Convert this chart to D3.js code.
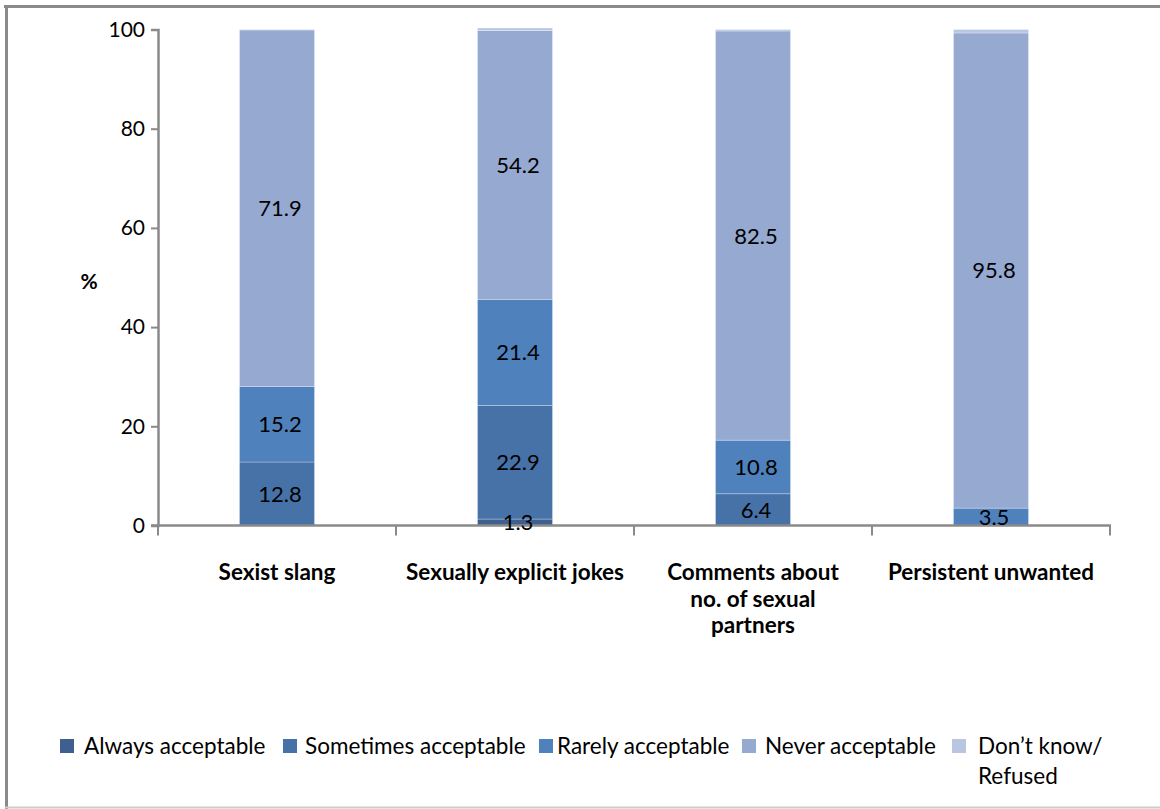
<!DOCTYPE html>
<html>
<head>
<meta charset="utf-8">
<script src="https://cdn.jsdelivr.net/npm/d3@7"></script>
<style>
  html, body { margin: 0; padding: 0; background: #fff; }
  svg { display: block; }
  text { font-family: Lato, "Noto Sans", sans-serif; fill: #000; }
</style>
</head>
<body>
<svg id="chart" width="1160" height="809"></svg>
<script>
// ---- data ----
const categories = ["Sexist slang", "Sexually explicit jokes", "Comments about no. of sexual partners", "Persistent unwanted"];
const categoryLines = [["Sexist slang"], ["Sexually explicit jokes"], ["Comments about", "no. of sexual", "partners"], ["Persistent unwanted"]];
const seriesNames = ["Always acceptable", "Sometimes acceptable", "Rarely acceptable", "Never acceptable", "Don\u2019t know/ Refused"];
const always    = [0,    1.3,  0,    0];
const sometimes = [12.8, 22.9, 6.4,  0];
const rarely    = [15.2, 21.4, 10.8, 3.5];
const never     = [71.9, 54.2, 82.5, 95.8];
const dontKnow  = [0.1,  0.5,  0.3,  0.7];
const yTicks = [0, 20, 40, 60, 80, 100];
const colors = ["#3D6090", "#4672A8", "#4F81BD", "#95A9D1", "#B9C6E1"];

const seriesValues = [always, sometimes, rarely, never, dontKnow];

const svg = d3.select("#chart");

// outer frame
svg.append("line").attr("x1", 4).attr("x2", 1160).attr("y1", 6.5).attr("y2", 6.5).attr("stroke", "#8a8a8a").attr("stroke-width", 3);
svg.append("line").attr("x1", 6.5).attr("x2", 6.5).attr("y1", 5).attr("y2", 809).attr("stroke", "#8a8a8a").attr("stroke-width", 3);
svg.append("line").attr("x1", 5).attr("x2", 1160).attr("y1", 807.5).attr("y2", 807.5).attr("stroke", "#cccccc").attr("stroke-width", 2);

const x0 = 158, x1 = 1110, yTop = 29.5, yBot = 525.5;
const x = d3.scaleBand().domain(categories).range([x0, x1]).paddingInner(0).paddingOuter(0);
const y = d3.scaleLinear().domain([0, 100]).range([yBot, yTop]);
const barW = 75;

// stacked data
const table = categories.map((c, i) => {
  const o = { cat: c };
  seriesNames.forEach((s, k) => o[s] = seriesValues[k][i]);
  return o;
});
const stack = d3.stack().keys(seriesNames)(table);

const gBars = svg.append("g");
stack.forEach((layer, k) => {
  gBars.selectAll(null).data(layer).enter().append("rect")
    .attr("x", d => x(d.data.cat) + x.bandwidth() / 2 - barW / 2)
    .attr("width", barW)
    .attr("y", d => y(d[1]))
    .attr("height", d => Math.max(0, y(d[0]) - y(d[1])))
    .attr("fill", colors[k])
    .attr("stroke", "rgba(255,255,255,0.35)")
    .attr("stroke-width", 0.8);
});

// axes
const yAxis = d3.axisLeft(y).tickValues(yTicks).tickSize(7).tickPadding(6);
const gy = svg.append("g").attr("transform", `translate(${x0},0)`).call(yAxis);
gy.select(".domain").attr("stroke", "#8a8a8a").attr("stroke-width", 2.5);
gy.selectAll(".tick line").attr("stroke", "#8a8a8a").attr("stroke-width", 2);
gy.selectAll(".tick text").style("font-family", "Lato, sans-serif").style("font-size", "21px").attr("fill", "#000");

// x axis baseline and ticks at band boundaries
svg.append("line").attr("x1", x0 - 7).attr("x2", x1 + 1).attr("y1", yBot).attr("y2", yBot).attr("stroke", "#8a8a8a").attr("stroke-width", 2.5);
const bounds = categories.map(c => x(c)).concat([x1]);
svg.selectAll(null).data(bounds).enter().append("line")
  .attr("x1", d => d).attr("x2", d => d)
  .attr("y1", yBot).attr("y2", yBot + 10)
  .attr("stroke", "#8a8a8a").attr("stroke-width", 2);

// category labels
categories.forEach((c, i) => {
  const t = svg.append("text")
    .attr("x", x(c) + x.bandwidth() / 2)
    .attr("y", 580)
    .attr("text-anchor", "middle")
    .style("font-size", "22.5px").style("font-weight", "bold");
  categoryLines[i].forEach((ln, j) => {
    t.append("tspan").attr("x", x(c) + x.bandwidth() / 2).attr("dy", j === 0 ? 0 : 26.5).text(ln);
  });
});

// y title
svg.append("text").attr("x", 89).attr("y", 289).attr("text-anchor", "middle")
  .style("font-size", "21px").style("font-weight", "bold").text("%");

// data labels
stack.forEach((layer, k) => {
  svg.selectAll(null).data(layer.filter(d => (d[1] - d[0]) >= 1)).enter().append("text")
    .attr("x", d => x(d.data.cat) + x.bandwidth() / 2 + 3)
    .attr("y", d => (y(d[0]) + y(d[1])) / 2)
    .attr("dy", "0.36em")
    .attr("text-anchor", "middle")
    .style("font-size", "22px")
    .text(d => d3.format(".1f")(d[1] - d[0]));
});

// legend
const legSq = [60, 283, 539, 742, 952];
const legTx = [84, 305, 557, 765, 978];
const legY = 746;
seriesNames.forEach((s, k) => {
  svg.append("rect").attr("x", legSq[k]).attr("y", legY - 7).attr("width", 14).attr("height", 14).attr("fill", colors[k]);
  const t = svg.append("text").attr("x", legTx[k]).attr("y", legY).attr("dy", "0.36em").style("font-size", "22.5px");
  if (k === 4) {
    t.append("tspan").attr("x", legTx[k]).text("Don\u2019t know/");
    t.append("tspan").attr("x", legTx[k]).attr("dy", 30).text("Refused");
  } else {
    t.text(s);
  }
});
</script>
</body>
</html>
